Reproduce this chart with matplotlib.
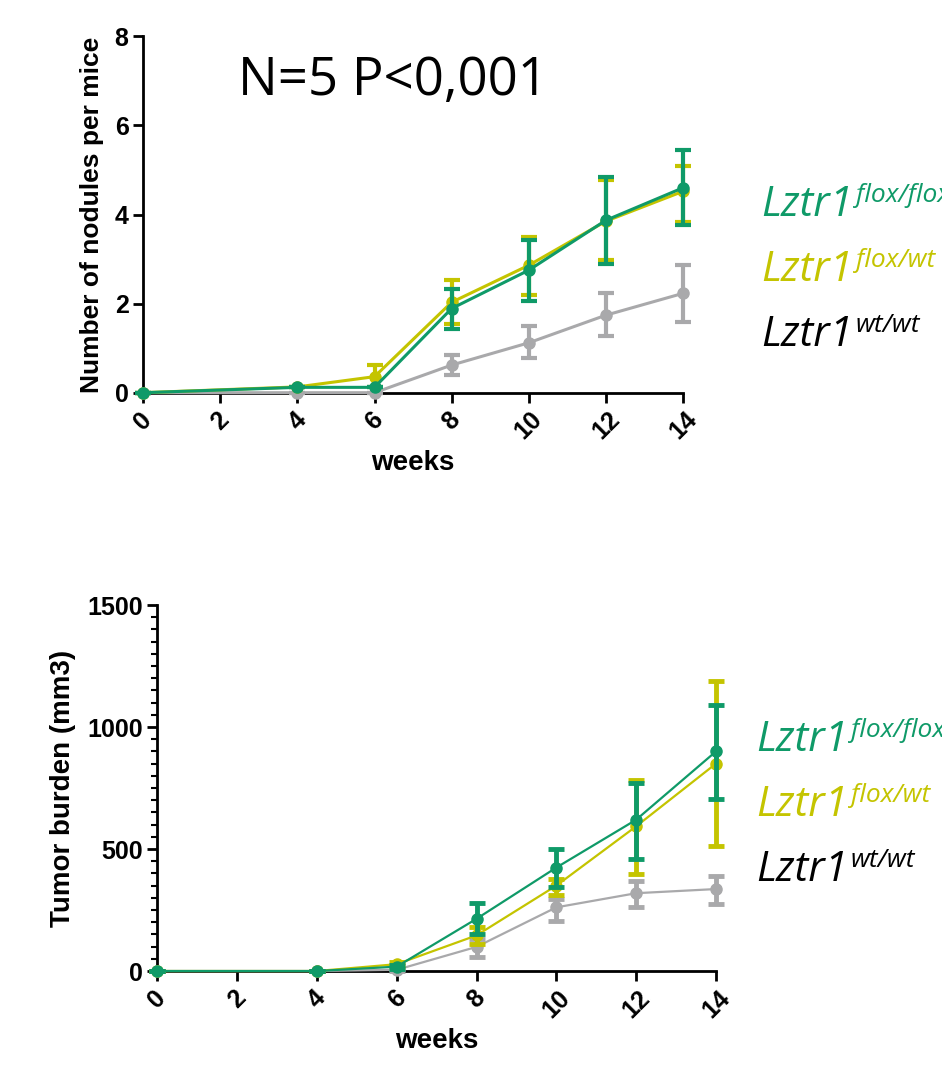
import matplotlib
matplotlib.use('Agg')
from matplotlib import pyplot as plt
from matplotlib.ticker import MultipleLocator

# ------------------------------ #
# data
weeks = [0, 4, 6, 8, 10, 12, 14]
labels = ['flox/flox', 'flox/wt', 'wt/wt']
colors = ['#0F9A68', '#C4C400', '#A9A9AB']

# nodules per mouse (mean, lower, upper)
nod_floxflox = [0, 0.12, 0.12, 1.89, 2.75, 3.87, 4.6]
nod_floxflox_lo = [0, 0.12, 0.12, 1.44, 2.06, 2.9, 3.77]
nod_floxflox_hi = [0, 0.12, 0.12, 2.33, 3.42, 4.84, 5.45]
nod_floxwt = [0, 0.13, 0.36, 2.03, 2.86, 3.85, 4.52]
nod_floxwt_lo = [0, 0.13, 0.12, 1.55, 2.19, 2.98, 3.84]
nod_floxwt_hi = [0, 0.13, 0.62, 2.54, 3.5, 4.77, 5.1]
nod_wt = [0, 0, 0, 0.62, 1.12, 1.74, 2.23]
nod_wt_lo = [0, 0, 0, 0.4, 0.77, 1.27, 1.59]
nod_wt_hi = [0, 0, 0, 0.84, 1.5, 2.23, 2.86]

# tumor burden mm3 (mean, lower, upper)
tb_floxflox = [0, 0, 18, 214, 424, 620, 900]
tb_floxflox_lo = [0, 0, 10, 153, 345, 460, 704]
tb_floxflox_hi = [0, 0, 26, 277, 501, 769, 1090]
tb_floxwt = [0, 0, 28, 146, 350, 593, 850]
tb_floxwt_lo = [0, 0, 20, 112, 311, 397, 512]
tb_floxwt_hi = [0, 0, 36, 180, 376, 785, 1189]
tb_wt = [0, 0, 5, 99, 261, 319, 336]
tb_wt_lo = [0, 0, 0, 58, 207, 261, 275]
tb_wt_hi = [0, 0, 10, 133, 295, 370, 390]

plt.rcParams['font.family'] = ['Liberation Sans', 'DejaVu Sans']


def draw(ax, means, los, his, lw, elw):
    # gray first, green on top
    for i in [2, 1, 0]:
        m = means[i]
        yerr = [[a - b for a, b in zip(m, los[i])], [b - a for a, b in zip(m, his[i])]]
        ax.errorbar(weeks, m, yerr=yerr, color=colors[i], lw=lw, elinewidth=elw,
                    capsize=6, capthick=elw, marker='o', ms=8, clip_on=False,
                    zorder=3 + (2 - i))


def style(ax, ymax, ystep, ylabel, ylsize):
    ax.set_xlim(0, 14)
    ax.set_ylim(0, ymax)
    ax.set_xticks(range(0, 15, 2))
    ax.set_yticks(range(0, ymax + 1, ystep))
    ax.spines['top'].set_visible(False)
    ax.spines['right'].set_visible(False)
    ax.spines['left'].set_linewidth(2)
    ax.spines['bottom'].set_linewidth(2)
    ax.tick_params(width=2, length=7, labelsize=18)
    for t in ax.get_xticklabels():
        t.set_rotation(45)
        t.set_fontweight('bold')
    for t in ax.get_yticklabels():
        t.set_fontweight('bold')
    ax.set_xlabel('weeks', fontsize=20, fontweight='bold', labelpad=4)
    ax.set_ylabel(ylabel, fontsize=ylsize, fontweight='bold', labelpad=8)


def legend(fig, x, ys):
    for i in range(3):
        tc = colors[i] if i < 2 else 'black'
        t = fig.text(x, ys[i], 'Lztr1', fontsize=30, style='italic', color=tc,
                     family='Open Sans', va='center')
        fig.axes[0].annotate(labels[i], xy=(1.03, 1.02), xycoords=t, fontsize=19,
                             style='italic', color=tc, family='Open Sans', va='top',
                             annotation_clip=False)


fig = plt.figure(figsize=(9.42, 10.70), dpi=100)

ax1 = fig.add_axes([0.152, 0.633, 0.573, 0.333])
draw(ax1, [nod_floxflox, nod_floxwt, nod_wt], [nod_floxflox_lo, nod_floxwt_lo, nod_wt_lo],
     [nod_floxflox_hi, nod_floxwt_hi, nod_wt_hi], 2.2, 3)
style(ax1, 8, 2, 'Number of nodules per mice', 19)
ax1.text(0.175, 0.875, 'N=5 P<0,001', transform=ax1.transAxes, fontsize=38,
         family='Open Sans', va='center')

ax2 = fig.add_axes([0.167, 0.0925, 0.593, 0.342])
draw(ax2, [tb_floxflox, tb_floxwt, tb_wt], [tb_floxflox_lo, tb_floxwt_lo, tb_wt_lo],
     [tb_floxflox_hi, tb_floxwt_hi, tb_wt_hi], 1.6, 3.5)
style(ax2, 1500, 500, 'Tumor burden (mm3)', 20)
ax2.yaxis.set_minor_locator(MultipleLocator(50))
ax2.tick_params(axis='y', which='minor', width=1.5, length=4)

legend(fig, 0.808, [1 - 205 / 1070, 1 - 270 / 1070, 1 - 335 / 1070])
legend(fig, 0.803, [1 - 740 / 1070, 1 - 805 / 1070, 1 - 870 / 1070])

fig.savefig('out.png', dpi=100)
